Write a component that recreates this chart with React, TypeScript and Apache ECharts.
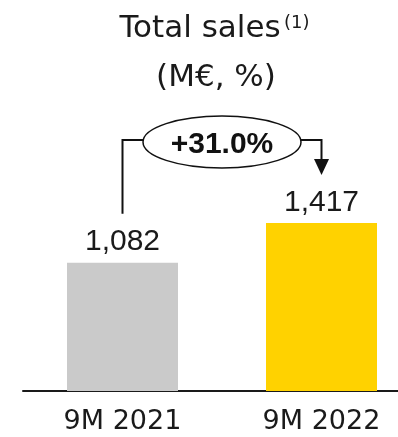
import React, { useEffect, useRef } from "react";
import * as echarts from "echarts";

const categories = ["9M 2021", "9M 2022"];
const salesValues = [1082, 1417];
const growthLabel = "+31.0%";
const barColors = ["#CACACA", "#FFD200"];
const titleMain = "Total sales";
const titleSup = "(1)";
const titleSub = "(M€, %)";

export default function App() {
  const ref = useRef<HTMLDivElement>(null);

  useEffect(() => {
    if (!ref.current) return;
    const chart = echarts.init(ref.current, null, { renderer: "svg" });
    const txt = "#1a1a1a";
    chart.setOption({
      animation: false,
      grid: { left: 23, top: 154, right: 0, height: 237 },
      xAxis: {
        type: "category",
        data: categories,
        axisLine: { show: true, lineStyle: { color: "#1a1a1a", width: 2 } },
        axisTick: { show: false },
        axisLabel: {
          margin: 15,
          fontSize: 27,
          fontFamily: "DejaVu Sans",
          color: txt,
        },
      },
      yAxis: { type: "value", min: 0, max: 2000, show: false, splitLine: { show: false } },
      series: [
        {
          type: "bar",
          barWidth: 111,
          data: salesValues.map((v, i) => ({ value: v, itemStyle: { color: barColors[i] } })),
          label: {
            show: true,
            position: "top",
            distance: 8,
            fontSize: 30,
            fontFamily: "Liberation Sans",
            color: txt,
            formatter: (p: any) => p.value.toLocaleString("en-US"),
          },
        },
      ],
    });

    const p0 = chart.convertToPixel({ seriesIndex: 0 }, [0, salesValues[0]]) as number[];
    const p1 = chart.convertToPixel({ seriesIndex: 0 }, [1, salesValues[1]]) as number[];
    const by = 140;
    const cx = (p0[0] + p1[0]) / 2;
    const rx = 79;
    const ry = 26;
    const lineStyle = { stroke: "#111", lineWidth: 2 };

    chart.setOption({
      graphic: [
        {
          type: "text",
          x: 200,
          y: 26,
          style: {
            text: titleMain,
            fontSize: 31,
            fontFamily: "DejaVu Sans",
            fill: txt,
            textAlign: "center",
            verticalAlign: "middle",
          },
        },
        {
          type: "text",
          x: 284,
          y: 21,
          style: {
            text: titleSup,
            fontSize: 18,
            fontFamily: "DejaVu Sans",
            fill: txt,
            textAlign: "left",
            verticalAlign: "middle",
          },
        },
        {
          type: "text",
          x: 216,
          y: 75,
          style: {
            text: titleSub,
            fontSize: 31,
            fontFamily: "DejaVu Sans",
            fill: txt,
            textAlign: "center",
            verticalAlign: "middle",
          },
        },
        {
          type: "polyline",
          shape: { points: [[p0[0], p0[1] - 49], [p0[0], by], [cx - rx + 1, by]] },
          style: { ...lineStyle, fill: "none" },
        },
        {
          type: "polyline",
          shape: { points: [[cx + rx - 1, by], [p1[0], by], [p1[0], 160]] },
          style: { ...lineStyle, fill: "none" },
        },
        {
          type: "polygon",
          shape: { points: [[p1[0] - 7.5, 159], [p1[0] + 7.5, 159], [p1[0], 175]] },
          style: { fill: "#111" },
        },
        {
          type: "ellipse",
          shape: { cx, cy: 142, rx, ry },
          style: { fill: "#fff", stroke: "#111", lineWidth: 1.5 },
        },
        {
          type: "text",
          x: cx,
          y: 142,
          style: {
            text: growthLabel,
            fontSize: 30,
            fontWeight: "bold",
            fontFamily: "Liberation Sans",
            fill: "#111",
            textAlign: "center",
            verticalAlign: "middle",
          },
        },
      ],
    });

    return () => chart.dispose();
  }, []);

  return (
    <div
      ref={ref}
      style={{ position: "fixed", left: 0, top: 0, width: 421, height: 437 }}
    />
  );
}
